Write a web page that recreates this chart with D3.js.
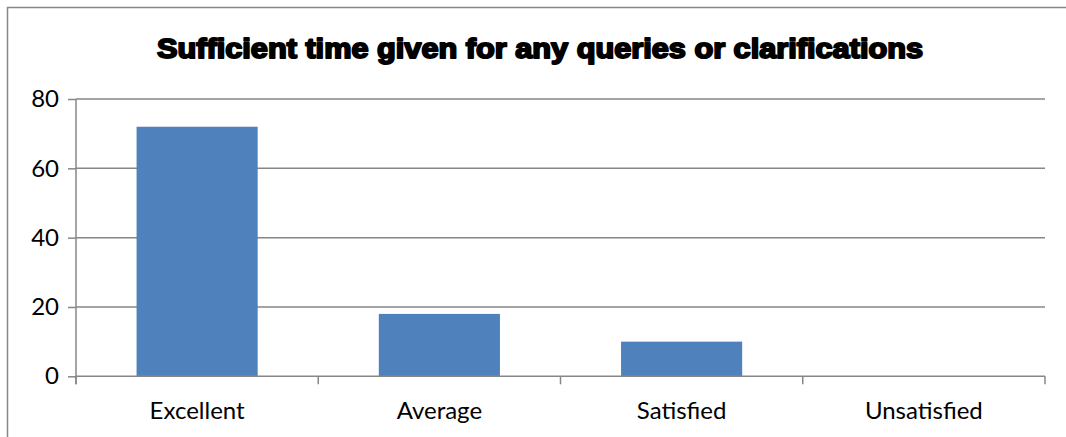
<!DOCTYPE html>
<html><head><meta charset="utf-8">
<script src="https://cdn.jsdelivr.net/npm/d3@7"></script>
<style>body{margin:0;background:#fff}svg{display:block}</style>
</head><body>
<svg id="c" width="1066" height="437"></svg>
<script>
const title = "Sufficient time given for any queries or clarifications";
const categories = ["Excellent", "Average", "Satisfied", "Unsatisfied"];
const values = [72, 18, 10, 0];
const yTicks = [0, 20, 40, 60, 80];

const svg = d3.select("#c");
const W = 1066, H = 437;
const m = {left: 76, right: 1045, top: 99, bottom: 376.3};
const grey = "#878787";

// frame
svg.append("path").attr("d", `M7.5,${H} L7.5,7.5 L${W},7.5`).attr("fill","none").attr("stroke",grey).attr("stroke-width",1.5);

// title
svg.append("text").attr("x", 540).attr("y", 58).attr("text-anchor","middle")
  .attr("font-family","Liberation Sans, Arial, sans-serif").attr("font-weight","bold")
  .attr("font-size", 27).attr("fill","#000").attr("stroke","#000").attr("stroke-width",1.9)
  .attr("stroke-linejoin","round")
  .attr("textLength", 766).attr("lengthAdjust","spacingAndGlyphs")
  .text(title);

const x = d3.scaleBand().domain(categories).range([m.left, m.right]).paddingInner(0.5).paddingOuter(0.25);
const xb = d3.scaleBand().domain(categories).range([m.left, m.right]);
const y = d3.scaleLinear().domain([0, 80]).range([m.bottom, m.top]);

// gridlines
svg.append("g").selectAll("line").data(yTicks.filter(d=>d>0)).join("line")
  .attr("x1", m.left).attr("x2", m.right).attr("y1", d=>y(d)).attr("y2", d=>y(d))
  .attr("stroke", grey).attr("stroke-width", 1.5);

// bars
svg.append("g").selectAll("rect").data(values).join("rect")
  .attr("x", (d,i)=>x(categories[i])).attr("width", x.bandwidth())
  .attr("y", d=>y(d)).attr("height", d=>y(0)-y(d)).attr("fill","#4F81BD");

// y axis
const yAxis = d3.axisLeft(y).tickValues(yTicks).tickSize(8).tickPadding(9).tickFormat(d3.format("d"));
const gy = svg.append("g").attr("transform", `translate(${m.left},0)`).call(yAxis);
gy.select(".domain").remove();
gy.selectAll(".tick line").attr("stroke", grey).attr("stroke-width",1.5);
gy.selectAll(".tick text").attr("font-family","Lato, 'Open Sans', sans-serif").attr("font-size",24).attr("fill","#000");
svg.append("line").attr("x1",m.left).attr("x2",m.left).attr("y1",m.top).attr("y2",m.bottom+8)
  .attr("stroke",grey).attr("stroke-width",1.5);

// x axis
svg.append("line").attr("x1",m.left).attr("x2",m.right).attr("y1",m.bottom).attr("y2",m.bottom)
  .attr("stroke",grey).attr("stroke-width",1.5);
const bounds = categories.map(c=>xb(c)).concat([m.right]);
svg.append("g").selectAll("line").data(bounds).join("line")
  .attr("x1",d=>d).attr("x2",d=>d).attr("y1",m.bottom).attr("y2",m.bottom+8)
  .attr("stroke",grey).attr("stroke-width",1.5);
svg.append("g").selectAll("text").data(categories).join("text")
  .attr("x", d=>xb(d)+xb.bandwidth()/2).attr("y", 419).attr("text-anchor","middle")
  .attr("font-family","Lato, 'Open Sans', sans-serif").attr("font-size",24).attr("fill","#000")
  .text(d=>d);
</script>
</body></html>
